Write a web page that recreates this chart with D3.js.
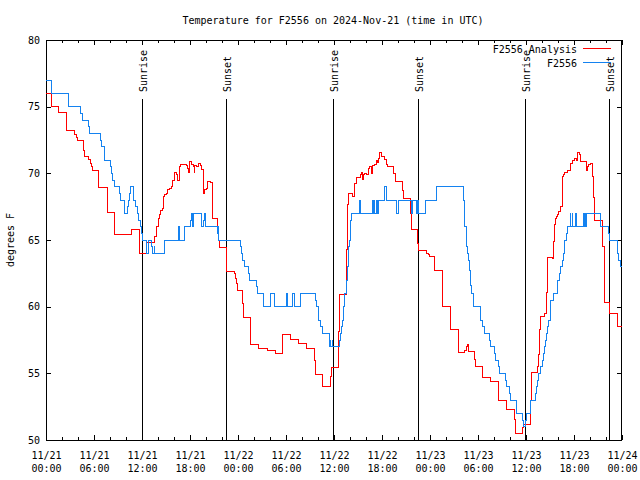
<!DOCTYPE html>
<html><head><meta charset="utf-8">
<script src="https://cdn.jsdelivr.net/npm/d3@7"></script>
<style>
body{margin:0;background:#fff;}
text{font-family:"DejaVu Sans Mono",monospace;font-size:10px;fill:#000;}
</style></head>
<body><svg id="c" width="640" height="480"></svg>
<script>
const title = "Temperature for F2556 on 2024-Nov-21 (time in UTC)";
const yLabel = "degrees F";
const seriesNames = ["F2556 Analysis", "F2556"];
const seriesColors = ["#ff0000", "#1482f0"];
const yTicks = [50, 55, 60, 65, 70, 75, 80];
const startDate = Date.UTC(2024, 10, 21);
const endDate = Date.UTC(2024, 10, 24);
const sunriseHours = [12.0, 35.88, 59.9];
const sunsetHours = [22.5, 46.54, 70.41];

// F2556 Analysis (hours since 11/21 00:00 UTC, degrees F)
const analysisHours = [0,0.67,1.62,2.58,3.62,3.75,3.91,4.66,4.75,5.37,5.5,5.66,5.79,6.62,7.66,8.62,10.66,11.66,12.5,12.58,13.62,13.75,13.87,14.04,14.16,14.34,14.5,14.66,14.87,15.09,15.21,15.41,15.71,15.84,16.04,16.25,16.46,16.66,16.75,17.16,17.5,17.66,17.79,17.91,18.21,18.41,18.5,18.62,18.84,19.04,19.25,19.46,19.66,19.87,20.09,20.21,20.62,20.75,20.84,21.46,21.59,21.66,22.54,23.54,23.66,23.84,23.96,24.59,24.66,25.54,25.62,26.59,27.71,28.66,29.59,30.54,31.59,32.59,33.54,33.66,34.59,35.5,35.66,36.54,36.66,37.59,37.66,37.79,38.34,38.5,38.62,38.75,39.34,39.46,39.59,39.66,39.87,40.09,40.29,40.41,40.59,40.71,40.84,41.0,41.25,41.41,41.54,41.66,41.84,41.96,42.25,42.37,42.59,42.66,42.79,43.41,43.66,44.59,44.66,45.59,45.71,46.41,46.54,47.59,47.79,47.91,48.62,49.59,50.59,51.62,52.37,52.59,52.71,52.84,53.54,53.66,54.59,55.62,56.59,57.59,58.5,58.69,59.59,59.66,60.62,60.66,61.46,61.59,61.66,61.75,62.29,62.5,62.59,62.66,62.71,63.34,63.41,63.54,63.66,63.84,63.96,64.09,64.37,64.5,64.66,64.79,65.21,65.54,65.62,65.75,65.84,66.04,66.25,66.46,66.66,66.79,66.87,67.5,67.71,67.84,68.0,68.25,68.41,68.54,69.5,69.59,69.79,70.41,71.46,71.59,72];
const analysisTemps = [76,75,74.6,73.2,72.95,72.7,72.45,71.75,71.25,71.05,70.75,70.5,70.2,68.95,67.1,65.45,65.8,64.0,64.2,64.8,65.25,65.6,66.05,66.6,66.95,67.25,67.38,68.25,68.38,68.5,68.8,68.88,69.0,69.5,70.1,69.88,69.5,70.55,70.63,70.7,70.6,70.4,70.1,70.9,70.7,70.5,70.1,70.6,70.55,70.75,70.6,70.3,68.5,68.8,68.9,69.4,69.3,67.9,66.6,65.75,65.0,64.45,62.65,62.5,62.1,61.75,61.25,60.25,59.2,58.13,57.2,56.88,56.7,56.5,57.95,57.55,57.25,56.88,55.95,54.95,54.05,54.75,55.45,58.13,60.93,64.3,67.7,68.5,68.25,68.5,69.25,69.7,69.88,70.05,69.55,69.9,70.0,69.95,70.38,70.55,70.5,70.0,70.6,70.7,70.95,70.8,71.1,71.55,71.55,71.25,71.2,71.05,70.63,70.5,70.55,70.0,69.4,68.75,68.13,67.0,65.8,64.75,64.25,64.0,63.88,63.8,62.7,60.05,58.3,56.55,56.7,57.0,57.2,56.63,56.05,55.55,54.7,54.4,53.0,52.3,51.55,50.5,50.95,51.2,53.0,55.08,55.5,56.38,58.3,59.25,59.5,59.75,61.05,63.0,63.7,63.58,64.88,66.2,66.63,66.75,66.9,67.13,67.5,69.8,69.9,70.05,70.2,70.45,70.75,70.95,71.0,71.1,71.0,71.55,71.45,71.38,70.9,70.25,70.5,70.7,70.75,69.8,68.2,66.5,64.7,64.55,60.3,59.5,58.5,58.5];

// F2556 observations
const obsHours = [0,0.69,2.75,4.37,4.54,5.29,5.41,6.83,6.94,7.37,8.08,8.21,8.37,8.5,9.16,9.37,9.75,9.87,10.16,10.31,10.44,10.58,10.92,11.21,11.44,11.62,11.84,11.96,12.08,12.58,12.79,13.21,13.33,13.5,13.56,14.87,16.54,16.66,17.25,18.08,18.21,18.31,18.41,19.44,19.66,19.86,19.98,21.46,21.54,21.6,24.25,24.41,24.59,24.79,25.29,25.41,26.34,26.46,27.16,28.12,28.54,30.0,30.2,30.84,31.04,31.87,33.66,33.87,34.08,34.29,34.5,35.41,35.54,35.62,35.75,35.84,36.66,36.84,36.96,37.09,37.16,37.29,37.5,37.59,37.66,37.79,37.91,38.0,38.09,38.21,39.16,39.34,40.84,40.91,41.0,41.12,41.25,41.41,41.54,42.37,42.5,43.84,44.04,45.71,45.84,46.25,46.41,46.54,47.46,48.75,52.16,52.25,52.37,52.5,52.66,52.79,52.91,53.09,53.21,53.41,54.37,54.59,54.79,55.41,55.5,56.04,56.16,56.59,56.66,57.41,57.59,57.91,58.12,58.84,59.5,59.66,59.91,60.09,60.62,61.16,61.34,61.46,61.59,61.87,62.09,62.21,62.29,62.41,62.59,62.71,62.84,63.0,63.12,63.41,63.96,64.16,64.37,64.5,64.66,64.79,65.0,65.21,65.54,65.62,65.75,65.87,66.16,66.25,67.16,67.25,67.37,67.46,67.5,69.25,69.37,70.34,70.41,71.46,71.62,71.75,72];
const obsTemps = [77,76,75,74.5,74,73.5,73,72.5,72,71,70.5,70,69.5,69,68.5,68,67.5,67,67.5,68,68.5,69,68,67.5,67,66.5,66,65.5,65,64,65,64.5,64,64.5,64,65,66,65,66,66.5,67,66,67,66,66.5,67,66,65.5,66,65,64.5,64,63.5,63,62.5,62,61.5,61,60,61,60,61,60,61,60,61,60.5,60,59,58.5,58,57,57.5,57,57.5,57,57.5,58,58.5,59,60,61,61.5,62,63,64.5,65,66,66.5,67,68,67,68,67,68,67,68,67,68,69,68,67,68,67,68,67,68,67,68,69,68,67,66,64.5,64,63.5,62.75,61.6,61,60,59,58.5,58,57.5,57,56.5,56,55.5,55,54.5,54,53.5,53,52,51.5,51,51.5,52,53,53.5,54,54.5,55,55.5,56,56.5,57,57.5,58,58.5,59,60,60.5,61,62,62.5,63,63.5,64,65,65.5,66,67,66,67,66,67,66,67,66,67,66,67,66.5,66,65.5,65,64,63.5,63,63];

const L = 46, R = 622, T = 40, B = 440;
const svg = d3.select("#c");
const hourDate = h => new Date(startDate + h * 3600000);
const x = d3.scaleUtc().domain([new Date(startDate), new Date(endDate)]).range([L, R]);
const y = d3.scaleLinear().domain([50, 80]).range([B, T]);

svg.append("rect").attr("width", 640).attr("height", 480).attr("fill", "#fff");

svg.append("clipPath").attr("id", "clip").append("rect")
  .attr("x", L).attr("y", T).attr("width", R - L).attr("height", B - T);

// axes
const fmt = d3.utcFormat("%m/%d|%H:%M");
const xb = svg.append("g").attr("transform", `translate(0,${B})`)
  .call(d3.axisBottom(x).ticks(d3.utcHour.every(6)).tickSize(-5).tickFormat(fmt));
xb.selectAll(".tick text").each(function(d) {
  const parts = fmt(d).split("|");
  const t = d3.select(this).text(null).attr("y", null).attr("dy", null);
  t.append("tspan").attr("x", 0).attr("y", 18.5).text(parts[0]);
  t.append("tspan").attr("x", 0).attr("y", 31.5).text(parts[1]);
});
svg.append("g").attr("transform", `translate(0,${B})`)
  .call(d3.axisBottom(x).ticks(d3.utcHour.every(2)).tickSize(-3).tickFormat(""));
svg.append("g").attr("transform", `translate(0,${T})`)
  .call(d3.axisTop(x).ticks(d3.utcHour.every(6)).tickSize(-5).tickFormat(""));
svg.append("g").attr("transform", `translate(0,${T})`)
  .call(d3.axisTop(x).ticks(d3.utcHour.every(2)).tickSize(-3).tickFormat(""));
svg.append("g").attr("transform", `translate(${L},0)`)
  .call(d3.axisLeft(y).tickValues(yTicks).tickSize(-5).tickPadding(6));
svg.append("g").attr("transform", `translate(${R},0)`)
  .call(d3.axisRight(y).tickValues(yTicks).tickSize(-5).tickFormat(""));
svg.selectAll(".domain").remove();
svg.selectAll(".tick line").attr("stroke", "#000").attr("shape-rendering", "crispEdges");
svg.selectAll(".tick text").attr("font-family", "DejaVu Sans Mono").attr("font-size", 10).attr("fill", "#000");

// border
svg.append("rect").attr("x", L + 0.5).attr("y", T + 0.5).attr("width", R - L - 1).attr("height", B - T)
  .attr("fill", "none").attr("stroke", "#000").attr("shape-rendering", "crispEdges");

// sunrise / sunset
const events = sunriseHours.map(h => ({h, label: "Sunrise"}))
  .concat(sunsetHours.map(h => ({h, label: "Sunset"})));
events.forEach(e => {
  const xp = Math.round(x(hourDate(e.h))) + 0.5;
  svg.append("line").attr("x1", xp).attr("x2", xp).attr("y1", 99).attr("y2", B)
    .attr("stroke", "#000").attr("stroke-width", 1).attr("shape-rendering", "crispEdges");
  svg.append("text").attr("transform", `translate(${xp + 1},92) rotate(-90)`)
    .attr("dy", "0.35em").text(e.label);
});

// series
const line = d3.line().curve(d3.curveStepAfter)
  .x(d => x(hourDate(d[0]))).y(d => y(d[1]));
const g = svg.append("g").attr("clip-path", "url(#clip)");
const analysis = analysisHours.map((h, i) => [h, analysisTemps[i]]);
const obs = obsHours.map((h, i) => [h, obsTemps[i]]);
g.append("path").datum(analysis).attr("d", line).attr("fill", "none")
  .attr("stroke", seriesColors[0]).attr("stroke-width", 1).attr("shape-rendering", "crispEdges");
g.append("path").datum(obs).attr("d", line).attr("fill", "none")
  .attr("stroke", seriesColors[1]).attr("stroke-width", 1).attr("shape-rendering", "crispEdges");

// legend
seriesNames.forEach((n, i) => {
  const yy = 49 + i * 14;
  svg.append("text").attr("x", 577).attr("y", yy).attr("dy", "0.35em")
    .attr("text-anchor", "end").text(n);
  svg.append("line").attr("x1", 583).attr("x2", 611).attr("y1", yy - 0.5).attr("y2", yy - 0.5)
    .attr("stroke", seriesColors[i]).attr("stroke-width", 1).attr("shape-rendering", "crispEdges");
});

// title & y label
svg.append("text").attr("x", 333).attr("y", 20).attr("dy", "0.35em")
  .attr("text-anchor", "middle").text(title);
svg.append("text").attr("transform", "translate(10,240) rotate(-90)")
  .attr("dy", "0.35em").attr("text-anchor", "middle").text(yLabel);
</script></body></html>
